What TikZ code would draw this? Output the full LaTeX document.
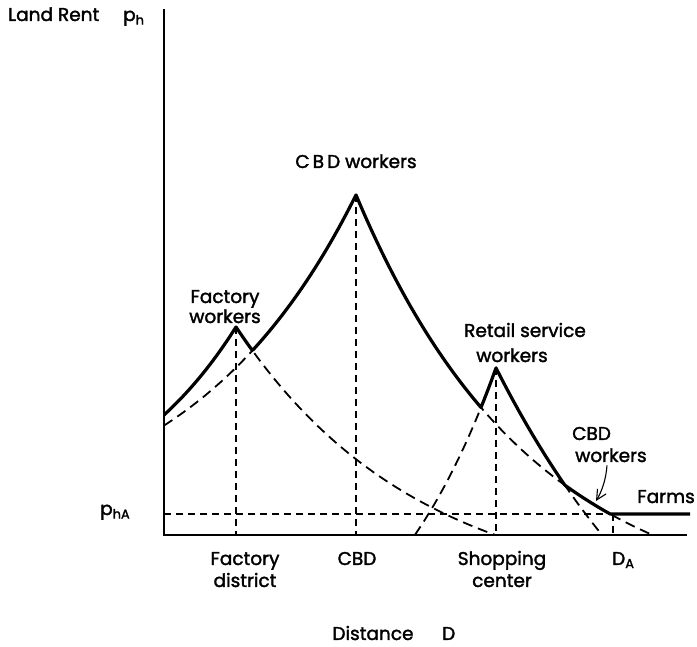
\documentclass[tikz,border=0pt]{standalone}
\usepackage{fontspec}
\setmainfont{Poppins}[UprightFeatures={FakeBold=1.8}]
\usetikzlibrary{arrows.meta}
\begin{document}
\begin{tikzpicture}[x=1pt,y=1pt,
  declare function={
    % bid-rent curves, height above the distance axis
    fac(\x)=ifthenelse(\x<236, 208*exp(-0.00764*(236-\x)), 273.9*exp(-0.0055*(\x-236))-65.9);
    cbd(\x)=ifthenelse(\x<356, 340*exp(-0.0059*(356-\x)), 416.7*exp(-0.0057*(\x-356))-76.7);
    ret(\x)=ifthenelse(\x<496, 350*exp(-0.008*(496-\x))-183, 440.1*exp(-0.0045*(\x-496))-273.1);
  },
  every node/.style={font=\fontsize{18.5}{22}\selectfont, inner sep=0pt},
  axisline/.style={line width=2.2pt, line cap=rect},
  envelope/.style={line width=3.2pt, line join=round},
  dashcurve/.style={line width=1.8pt, dash pattern=on 10pt off 6pt},
  guide/.style={line width=1.1pt, dash pattern=on 7pt off 5pt},
]
\useasboundingbox (0,-112) rectangle (697,535);

% rent curves continued below the envelope
\draw[dashcurve] plot[domain=236:495, samples=120] (\x,{fac(\x)});
\draw[dashcurve] plot[domain=164:653, samples=240] (\x,{cbd(\x)});
\draw[dashcurve] plot[domain=415:602, samples=100] (\x,{ret(\x)});

% guide lines
\draw[guide] (164,21) -- (610,21);
\draw[guide] (236,{fac(236)}) -- (236,0);
\draw[guide] (356,{cbd(356)}) -- (356,0);
\draw[guide] (496,{ret(496)}) -- (496,0);
\draw[guide] (613,21) -- (613,0);

% market rent: the upper envelope of all bids, farms included
\draw[envelope] plot[domain=164:690, samples=527] (\x,{max(fac(\x),cbd(\x),ret(\x),21)});

% axes
\draw[axisline] (164,525) -- (164,0) -- (686,0);

% axis labels
\node[anchor=base west] (landrent) at (8,514) {Land Rent};
\node[anchor=base west] (ph) at (123,514) {p\textsubscript{h}};
\node[anchor=base west] (pha) at (100,20) {p\textsubscript{hA}};
\node[anchor=base] (distance) at (373,-105) {Distance};
\node[anchor=base west] (dsym) at (442,-105) {D};

% tick labels along the distance axis
\node[anchor=base] (fd1) at (245,-30) {Factory};
\node[anchor=base] (fd2) at (245,-52) {district};
\node[anchor=base] (cbdtick) at (357,-30) {CBD};
\node[anchor=base] (sc1) at (502,-30) {Shopping};
\node[anchor=base] (sc2) at (502,-52) {center};
\node[anchor=base west] (da) at (612,-30) {D\textsubscript{A}};

% curve labels
\node[anchor=base] (cbdw) at (356,367) {C\,B\,D workers};
\node[anchor=base] (fw1) at (225,232) {Factory};
\node[anchor=base] (fw2) at (225,212) {workers};
\node[anchor=base] (rw1) at (525,198) {Retail service};
\node[anchor=base] (rw2) at (512,173) {workers};
\node[anchor=base west] (cw1) at (572,95) {CBD};
\node[anchor=base west] (cw2) at (575,73) {workers};
\node[anchor=base east] (farms) at (695,32) {Farms};

% pointer from the outer CBD label to its curve
\coordinate (tip) at (596,34);
\draw[line width=1.1pt, -{Straight Barb[length=10pt,width=10pt]}]
  ([xshift=32pt,yshift=-3pt]cw2.south west) .. controls +(-1,-14) and (602,44) .. (tip);
\end{tikzpicture}
\end{document}
